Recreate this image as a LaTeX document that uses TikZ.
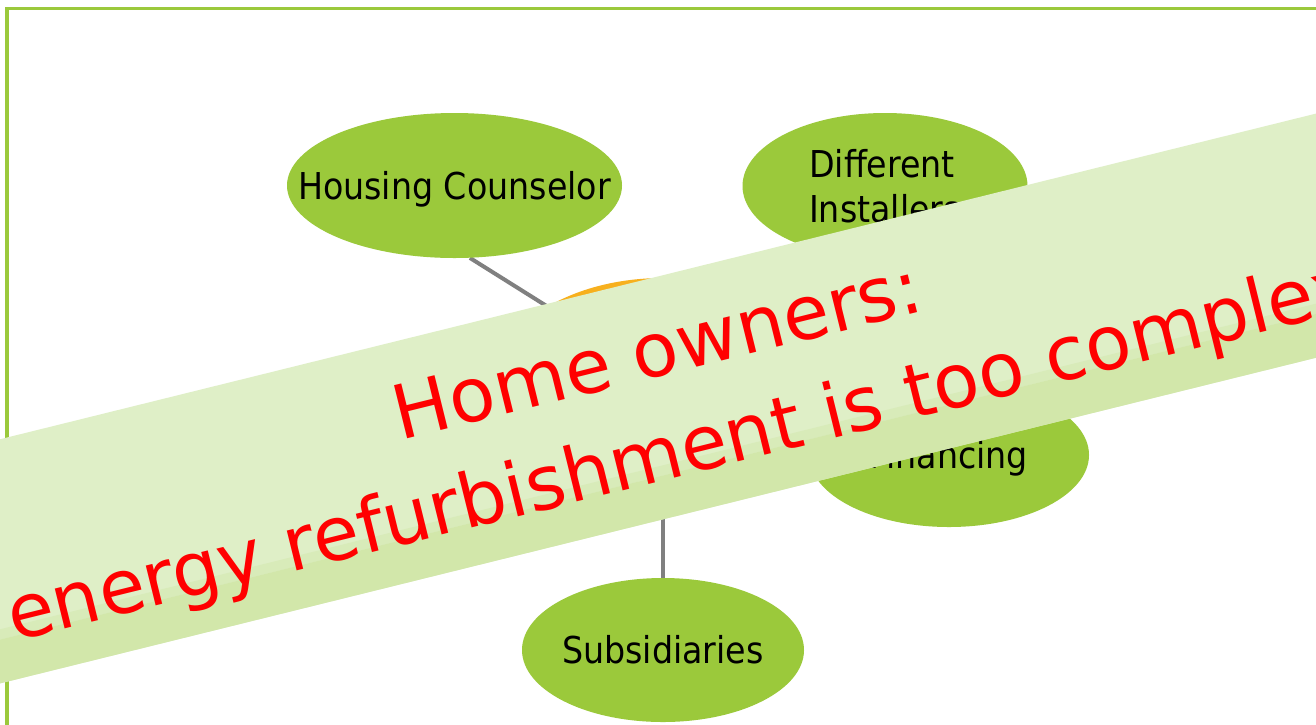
\documentclass[tikz,border=0pt]{standalone}
\usepackage{fontspec}
\setmainfont{DejaVu Sans}
\newfontfamily\labelfont{DejaVu Sans Condensed}
\usetikzlibrary{shapes.geometric,backgrounds}
\definecolor{framegreen}{HTML}{9BC93C}
\definecolor{ellgreen}{HTML}{9BC93B}
\definecolor{hubor}{HTML}{F7B01E}
\definecolor{bannerlight}{HTML}{DFEFC7}
\definecolor{bannerdark}{HTML}{D2E7AA}
\definecolor{conngray}{HTML}{808080}
\begin{document}
\begin{tikzpicture}[x=1pt,y=-1pt,
  sat/.style={ellipse, fill=ellgreen, inner sep=0pt, text=black,
    text height=27.6pt, text depth=0pt,
    font=\labelfont\fontsize{37}{45}\selectfont},
  hub/.style={ellipse, fill=hubor, minimum width=330pt, minimum height=202pt, inner sep=0pt},
  conn/.style={draw=conngray, line width=4pt},
  frameline/.style={draw=framegreen, line width=3.5pt},
  bannertext/.style={text=red, font=\fontsize{75}{102}\selectfont, inner sep=0pt, anchor=base, transform shape}]
\useasboundingbox (0,0) rectangle (1316,724);

% nodes
\node[hub] (ctr) at (663,379) {};
\node[sat, minimum width=335pt, minimum height=145pt] (hc) at (454.5,185.5)
  {\makebox[0pt]{Housing Counselor}};
\node[sat, minimum width=285pt, minimum height=146pt, text height=72.6pt] (di) at (885,186)
  {\makebox[0pt]{\smash{\begin{tabular}[b]{@{}l@{}}Different\\Installers\end{tabular}}}};
\node[sat, minimum width=280pt, minimum height=144pt] (fin) at (949,455)
  {\makebox[0pt]{Financing}};
\node[sat, minimum width=282pt, minimum height=144pt] (sub) at (663,650)
  {\makebox[0pt]{Subsidiaries}};

% background: page, frame, connectors
\begin{scope}[on background layer]
  \fill[white] (0,0) rectangle (1316,724);
  \draw[frameline] (7,8.5) rectangle (1400,800);
  \draw[conn] (ctr.center) -- (hc.-78);
  \draw[conn] (ctr.center) -- (di);
  \draw[conn] (ctr.center) -- (fin);
  \draw[conn] (ctr.center) -- (sub);
\end{scope}

% banner
\begin{scope}[shift={(660,398)}, rotate=13.9]
  \fill[bannerlight] (-900,-118.5) rectangle (900,118.5);
  \fill[bannerlight!50!bannerdark] (-900,66) rectangle (900,76);
  \fill[bannerdark] (-900,76) rectangle (900,118.5);
  \node[bannertext] (t1) at (9,-21) {Home owners:};
  \node[bannertext] (t2) at (8,81) {“energy refurbishment is too complex”};
\end{scope}
\end{tikzpicture}
\end{document}
